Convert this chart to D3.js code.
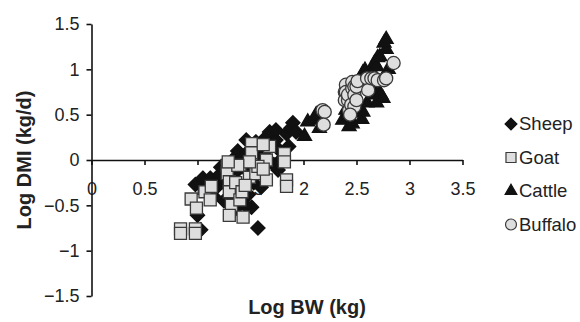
<!DOCTYPE html>
<html>
<head>
<meta charset="utf-8">
<script src="https://cdn.jsdelivr.net/npm/d3@7"></script>
<style>
  body { margin: 0; background: #fff; }
  text { font-family: "Liberation Sans", Arial, sans-serif; fill: #222; }
</style>
</head>
<body>
<div id="grafico"></div>
<script>
// Log BW (kg) vs Log DMI (kg/d)
const sheep = [
  [0.98,-0.27],[1.05,-0.2],[1.08,-0.3],[1.0,-0.61],[1.03,-0.77],[1.12,-0.2],[1.2,-0.17],[1.18,-0.3],
  [1.22,-0.08],[1.25,-0.25],[1.3,-0.4],[1.33,0.0],[1.35,-0.15],[1.38,0.1],[1.4,-0.3],[1.42,0.03],
  [1.45,-0.1],[1.46,0.22],[1.48,-0.38],[1.5,0.12],[1.51,-0.52],[1.53,-0.25],[1.55,0.2],[1.57,-0.75],
  [1.58,-0.1],[1.6,0.05],[1.62,0.22],[1.64,-0.05],[1.66,0.12],[1.68,0.31],[1.7,0.18],[1.74,0.22],
  [1.74,0.33],[1.76,-0.11],[1.78,0.1],[1.8,0.02],[1.84,0.29],[1.86,0.15],[1.88,0.35],[1.9,0.41],
  [1.93,0.31],[1.72,-0.05],[1.6,-0.3],[1.45,-0.5],[1.35,-0.55],[1.15,-0.4],[1.25,-0.45]
];
const goat = [
  [0.84,-0.76],[0.84,-0.81],[0.98,-0.76],[0.98,-0.81],[0.94,-0.43],[0.99,-0.53],[1.07,-0.35],[1.12,-0.44],
  [1.13,-0.29],[1.28,-0.06],[1.28,-0.15],[1.3,-0.24],[1.3,-0.35],[1.32,-0.5],[1.3,-0.61],[1.4,-0.06],
  [1.4,-0.44],[1.43,-0.63],[1.49,-0.19],[1.51,0.18],[1.51,0.08],[1.55,-0.15],[1.68,0.15],[1.62,0.17],
  [1.82,0.07],[1.82,-0.02],[1.65,0],[1.57,-0.07],[1.49,-0.02],[1.38,-0.06],[1.29,-0.02],[1.65,-0.22],
  [1.84,-0.22],[1.84,-0.29],[1.36,-0.25],[1.42,-0.35],[1.45,-0.28],[1.62,-0.1]
];
const cattle = [
  [2.01,0.26],[2.04,0.42],[2.10,0.44],[2.12,0.5],[2.15,0.35],[2.37,0.44],[2.40,0.55],[2.43,0.37],
  [2.43,0.48],[2.46,0.4],[2.48,0.52],[2.51,0.59],[2.55,0.45],[2.56,0.53],[2.60,0.63],[2.62,0.8],
  [2.67,0.72],[2.69,0.63],[2.69,0.77],[2.73,0.72],[2.75,0.68],[2.56,0.88],[2.56,0.96],[2.58,0.99],
  [2.64,0.99],[2.67,1.07],[2.69,1.03],[2.70,1.13],[2.72,1.14],[2.78,1.22],[2.76,1.29],[2.78,1.33],
  [2.80,1.0]
];
const buffalo = [
  [2.18,0.55],[2.20,0.53],[2.19,0.39],[2.39,0.75],[2.39,0.66],[2.40,0.83],[2.40,0.75],[2.42,0.66],
  [2.42,0.72],[2.43,0.55],[2.45,0.61],[2.46,0.79],[2.46,0.86],[2.48,0.81],[2.48,0.72],[2.48,0.59],
  [2.50,0.66],[2.50,0.81],[2.51,0.87],[2.60,0.90],[2.61,0.77],[2.64,0.90],[2.67,0.90],[2.70,0.88],
  [2.76,0.88],[2.78,0.90],[2.85,1.07],[2.44,0.5]
];
const xTicks = [0, 0.5, 1, 1.5, 2, 2.5, 3, 3.5];
const yTicks = [-1.5, -1, -0.5, 0, 0.5, 1, 1.5];
const seriesNames = ['Sheep', 'Goat', 'Cattle', 'Buffalo'];

const W = 580, H = 322;
const svg = d3.select('#grafico').append('svg')
  .attr('width', W).attr('height', H);

const x = d3.scaleLinear().domain([0, 3.5]).range([91.5, 462.5]);
const y = d3.scaleLinear().domain([-1.5, 1.5]).range([296, 24]);

// axes
const xAxis = svg.append('g')
  .attr('transform', `translate(0,${y(0)})`)
  .call(d3.axisBottom(x).tickValues(xTicks).tickSize(5).tickSizeOuter(0).tickFormat(d3.format('')));
xAxis.selectAll('text').attr('y', 22).style('font-size', '18px');

const yAxis = svg.append('g')
  .attr('transform', `translate(${x(0)},0)`)
  .call(d3.axisLeft(y).tickValues(yTicks).tickSize(5).tickSizeOuter(0).tickPadding(7).tickFormat(d3.format('')));
yAxis.selectAll('text').style('font-size', '18px');

svg.selectAll('.domain, .tick line').attr('stroke', '#111').attr('stroke-width', 1.6);
svg.selectAll('.tick text').attr('fill', '#222').style('font-family', '"Liberation Sans", Arial, sans-serif');

// axis titles
svg.append('text')
  .attr('x', 307).attr('y', 314)
  .attr('text-anchor', 'middle')
  .style('font-size', '20px').style('font-weight', 'bold')
  .text('Log BW (kg)');

svg.append('text')
  .attr('transform', 'translate(31,160) rotate(-90)')
  .attr('text-anchor', 'middle')
  .style('font-size', '20px').style('font-weight', 'bold')
  .text('Log DMI (kg/d)');

// markers
const diamond = { draw(ctx, size) { const r = Math.sqrt(size / 2); ctx.moveTo(0, -r); ctx.lineTo(r, 0); ctx.lineTo(0, r); ctx.lineTo(-r, 0); ctx.closePath(); } };
const styles = [
  { type: diamond, size: 100, fill: '#111', stroke: '#111' },
  { type: d3.symbolSquare, size: 144, fill: '#dedede', stroke: '#3a3a3a' },
  { type: d3.symbolTriangle, size: 85, fill: '#111', stroke: '#111' },
  { type: d3.symbolCircle, size: 135, fill: '#dedede', stroke: '#3a3a3a' }
];
const allData = [sheep, goat, cattle, buffalo];

allData.forEach((pts, i) => {
  const s = styles[i];
  svg.append('g').selectAll('path')
    .data(pts)
    .enter().append('path')
    .attr('transform', d => `translate(${x(d[0])},${y(d[1])})`)
    .attr('d', d3.symbol().type(s.type).size(s.size))
    .attr('fill', s.fill)
    .attr('stroke', s.stroke)
    .attr('stroke-width', 1.3);
});

// legend
const legend = svg.append('g').attr('transform', 'translate(511,124)');
seriesNames.forEach((name, i) => {
  const s = styles[i];
  const row = legend.append('g').attr('transform', `translate(0,${i * 33.5})`);
  row.append('path')
    .attr('d', d3.symbol().type(s.type).size(s.size * 0.7))
    .attr('fill', s.fill).attr('stroke', s.stroke).attr('stroke-width', 1.2);
  row.append('text')
    .attr('x', 8).attr('y', 0).attr('dy', '0.35em')
    .style('font-size', '18.5px')
    .text(name);
});
</script>
</body>
</html>
